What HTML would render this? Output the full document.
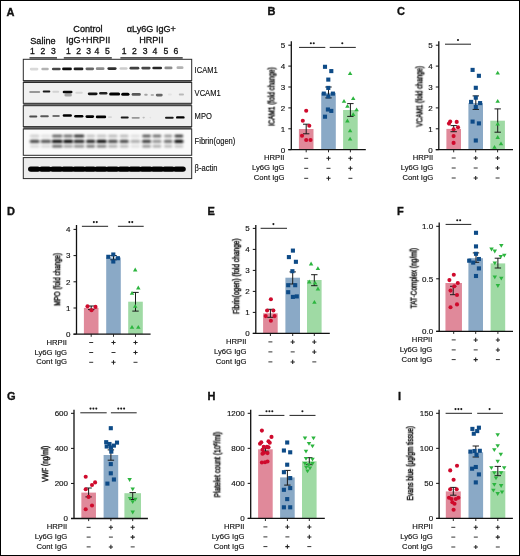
<!DOCTYPE html>
<html><head><meta charset="utf-8"><style>
html,body{margin:0;padding:0;background:#fff;}
svg{display:block;}
svg text{will-change:transform;}
svg text.yl{will-change:auto;}
svg text{font-family:"Liberation Sans", sans-serif;fill:#111;stroke:#111;stroke-width:0.15px;}
</style></head><body>
<svg width="520" height="556" viewBox="0 0 520 556">
<defs><filter id="noop"><feOffset dx="0" dy="0"/></filter><filter id="bl" x="-30%" y="-80%" width="160%" height="260%"><feGaussianBlur stdDeviation="0.75"/></filter><filter id="bl3" x="-30%" y="-80%" width="160%" height="260%"><feGaussianBlur stdDeviation="1.0"/></filter><filter id="bl2" x="-30%" y="-80%" width="160%" height="260%"><feGaussianBlur stdDeviation="0.6"/></filter></defs>
<rect x="0" y="0" width="520" height="556" fill="#fff"/>
<rect x="23.3" y="80.6" width="168.39999999999998" height="1.9" fill="#6a6a6a"/>
<rect x="23.3" y="103.3" width="168.39999999999998" height="2.4" fill="#6a6a6a"/>
<rect x="23.3" y="126.6" width="168.39999999999998" height="2.4" fill="#6a6a6a"/>
<rect x="23.3" y="59.3" width="168.39999999999998" height="21.30" fill="#ffffff" stroke="#2a2a2a" stroke-width="1"/>
<rect x="23.3" y="82.5" width="168.39999999999998" height="20.80" fill="#f1f1f1" stroke="#2a2a2a" stroke-width="1"/>
<rect x="23.3" y="105.7" width="168.39999999999998" height="20.90" fill="#efefef" stroke="#2a2a2a" stroke-width="1"/>
<rect x="23.3" y="129.0" width="168.39999999999998" height="26.30" fill="#fafafa" stroke="#2a2a2a" stroke-width="1"/>
<rect x="23.3" y="157.6" width="168.39999999999998" height="21.00" fill="#ececec" stroke="#2a2a2a" stroke-width="1"/>
<rect x="29.80" y="67.75" width="8.60" height="2.70" rx="1.35" fill="#000" fill-opacity="0.15" filter="url(#bl)"/>
<rect x="41.30" y="67.65" width="7.50" height="2.70" rx="1.35" fill="#000" fill-opacity="0.30" filter="url(#bl)"/>
<rect x="51.90" y="67.65" width="8.80" height="2.70" rx="1.35" fill="#000" fill-opacity="0.72" filter="url(#bl)"/>
<rect x="62.10" y="67.55" width="9.80" height="2.70" rx="1.35" fill="#000" fill-opacity="0.95" filter="url(#bl)"/>
<rect x="73.60" y="67.55" width="9.80" height="2.70" rx="1.35" fill="#000" fill-opacity="0.88" filter="url(#bl)"/>
<rect x="85.50" y="67.45" width="8.60" height="2.70" rx="1.35" fill="#000" fill-opacity="0.60" filter="url(#bl)"/>
<rect x="95.80" y="67.35" width="8.70" height="2.70" rx="1.35" fill="#000" fill-opacity="0.45" filter="url(#bl)"/>
<rect x="107.40" y="67.25" width="9.20" height="2.70" rx="1.35" fill="#000" fill-opacity="0.82" filter="url(#bl)"/>
<rect x="119.50" y="67.15" width="8.10" height="2.70" rx="1.35" fill="#000" fill-opacity="0.20" filter="url(#bl)"/>
<rect x="129.50" y="66.85" width="9.80" height="2.70" rx="1.35" fill="#000" fill-opacity="0.75" filter="url(#bl)"/>
<rect x="141.30" y="66.75" width="9.30" height="2.70" rx="1.35" fill="#000" fill-opacity="0.72" filter="url(#bl)"/>
<rect x="152.30" y="66.65" width="9.80" height="2.70" rx="1.35" fill="#000" fill-opacity="0.85" filter="url(#bl)"/>
<rect x="164.40" y="66.55" width="8.10" height="2.70" rx="1.35" fill="#000" fill-opacity="0.45" filter="url(#bl)"/>
<rect x="176.50" y="66.35" width="7.00" height="2.70" rx="1.35" fill="#000" fill-opacity="0.30" filter="url(#bl)"/>
<rect x="29.20" y="91.05" width="11.00" height="1.90" rx="0.95" fill="#000" fill-opacity="0.37" filter="url(#bl)"/>
<rect x="42.70" y="90.40" width="7.60" height="2.00" rx="1.00" fill="#000" fill-opacity="0.89" filter="url(#bl)"/>
<rect x="52.30" y="90.70" width="6.90" height="2.00" rx="1.00" fill="#000" fill-opacity="0.13" filter="url(#bl)"/>
<rect x="62.70" y="90.70" width="9.80" height="2.60" rx="1.30" fill="#000" fill-opacity="0.97" filter="url(#bl)"/>
<rect x="75.30" y="91.80" width="7.50" height="2.00" rx="1.00" fill="#000" fill-opacity="0.11" filter="url(#bl)"/>
<rect x="87.80" y="92.40" width="9.80" height="2.80" rx="1.40" fill="#000" fill-opacity="0.92" filter="url(#bl)"/>
<rect x="99.10" y="92.00" width="8.30" height="2.40" rx="1.20" fill="#000" fill-opacity="0.86" filter="url(#bl)"/>
<rect x="109.10" y="92.40" width="11.00" height="3.00" rx="1.50" fill="#000" fill-opacity="1.00" filter="url(#bl)"/>
<rect x="121.20" y="92.70" width="8.30" height="3.00" rx="1.50" fill="#000" fill-opacity="1.00" filter="url(#bl)"/>
<rect x="131.60" y="93.10" width="9.20" height="2.60" rx="1.30" fill="#000" fill-opacity="0.63" filter="url(#bl)"/>
<rect x="144.20" y="93.80" width="3.50" height="2.00" rx="1.00" fill="#000" fill-opacity="0.32" filter="url(#bl)"/>
<rect x="150.60" y="94.10" width="3.40" height="1.80" rx="0.90" fill="#000" fill-opacity="0.26" filter="url(#bl)"/>
<rect x="155.80" y="93.80" width="6.90" height="2.60" rx="1.30" fill="#000" fill-opacity="0.58" filter="url(#bl)"/>
<rect x="167.90" y="93.50" width="4.00" height="2.00" rx="1.00" fill="#000" fill-opacity="0.06" filter="url(#bl)"/>
<rect x="178.80" y="93.50" width="5.20" height="2.00" rx="1.00" fill="#000" fill-opacity="0.23" filter="url(#bl)"/>
<rect x="64.40" y="93.30" width="7.50" height="3.20" rx="1.60" fill="#000" fill-opacity="0.32" filter="url(#bl)"/>
<rect x="29.20" y="115.50" width="8.10" height="2.00" rx="1.00" fill="#000" fill-opacity="0.68" filter="url(#bl)"/>
<rect x="40.20" y="115.20" width="8.60" height="2.00" rx="1.00" fill="#000" fill-opacity="0.63" filter="url(#bl)"/>
<rect x="52.30" y="114.90" width="7.50" height="2.00" rx="1.00" fill="#000" fill-opacity="0.53" filter="url(#bl)"/>
<rect x="62.70" y="114.20" width="9.20" height="2.60" rx="1.30" fill="#000" fill-opacity="1.00" filter="url(#bl)"/>
<rect x="74.20" y="115.00" width="9.20" height="2.60" rx="1.30" fill="#000" fill-opacity="1.00" filter="url(#bl)"/>
<rect x="85.50" y="115.30" width="8.60" height="2.60" rx="1.30" fill="#000" fill-opacity="1.00" filter="url(#bl)"/>
<rect x="95.80" y="115.50" width="10.40" height="2.80" rx="1.40" fill="#000" fill-opacity="1.00" filter="url(#bl)"/>
<rect x="108.00" y="116.20" width="4.00" height="1.80" rx="0.90" fill="#000" fill-opacity="0.11" filter="url(#bl)"/>
<rect x="120.70" y="116.50" width="8.00" height="2.00" rx="1.00" fill="#000" fill-opacity="0.89" filter="url(#bl)"/>
<rect x="131.60" y="116.90" width="8.20" height="1.80" rx="0.90" fill="#000" fill-opacity="0.37" filter="url(#bl)"/>
<rect x="142.50" y="116.80" width="2.30" height="1.60" rx="0.80" fill="#000" fill-opacity="0.21" filter="url(#bl)"/>
<rect x="149.40" y="116.80" width="1.80" height="1.60" rx="0.80" fill="#000" fill-opacity="0.06" filter="url(#bl)"/>
<rect x="165.00" y="116.80" width="8.70" height="2.00" rx="1.00" fill="#000" fill-opacity="0.89" filter="url(#bl)"/>
<rect x="176.00" y="116.20" width="8.60" height="2.40" rx="1.20" fill="#000" fill-opacity="1.00" filter="url(#bl)"/>
<rect x="30.00" y="134.80" width="9.30" height="2.40" rx="1.20" fill="#000" fill-opacity="0.19" filter="url(#bl3)"/>
<rect x="29.70" y="139.70" width="9.90" height="3.40" rx="1.70" fill="#000" fill-opacity="0.70" filter="url(#bl3)"/>
<rect x="30.00" y="145.00" width="9.30" height="2.40" rx="1.20" fill="#000" fill-opacity="0.14" filter="url(#bl3)"/>
<rect x="41.00" y="134.80" width="9.80" height="2.40" rx="1.20" fill="#000" fill-opacity="0.10" filter="url(#bl3)"/>
<rect x="40.70" y="139.70" width="10.40" height="3.40" rx="1.70" fill="#000" fill-opacity="0.65" filter="url(#bl3)"/>
<rect x="41.00" y="145.00" width="9.80" height="2.40" rx="1.20" fill="#000" fill-opacity="0.14" filter="url(#bl3)"/>
<rect x="52.00" y="134.80" width="10.40" height="2.40" rx="1.20" fill="#000" fill-opacity="0.66" filter="url(#bl3)"/>
<rect x="51.70" y="139.70" width="11.00" height="3.40" rx="1.70" fill="#000" fill-opacity="0.95" filter="url(#bl3)"/>
<rect x="52.00" y="145.00" width="10.40" height="2.40" rx="1.20" fill="#000" fill-opacity="0.62" filter="url(#bl3)"/>
<rect x="63.50" y="134.80" width="9.30" height="2.40" rx="1.20" fill="#000" fill-opacity="0.62" filter="url(#bl3)"/>
<rect x="63.20" y="139.70" width="9.90" height="3.40" rx="1.70" fill="#000" fill-opacity="0.98" filter="url(#bl3)"/>
<rect x="63.50" y="145.00" width="9.30" height="2.40" rx="1.20" fill="#000" fill-opacity="0.38" filter="url(#bl3)"/>
<rect x="73.90" y="134.80" width="10.40" height="2.40" rx="1.20" fill="#000" fill-opacity="0.90" filter="url(#bl3)"/>
<rect x="73.60" y="139.70" width="11.00" height="3.40" rx="1.70" fill="#000" fill-opacity="0.85" filter="url(#bl3)"/>
<rect x="73.90" y="145.00" width="10.40" height="2.40" rx="1.20" fill="#000" fill-opacity="0.47" filter="url(#bl3)"/>
<rect x="86.30" y="134.80" width="8.70" height="2.40" rx="1.20" fill="#000" fill-opacity="0.24" filter="url(#bl3)"/>
<rect x="86.00" y="139.70" width="9.30" height="3.40" rx="1.70" fill="#000" fill-opacity="0.85" filter="url(#bl3)"/>
<rect x="86.30" y="145.00" width="8.70" height="2.40" rx="1.20" fill="#000" fill-opacity="0.57" filter="url(#bl3)"/>
<rect x="96.70" y="134.80" width="9.80" height="2.40" rx="1.20" fill="#000" fill-opacity="0.24" filter="url(#bl3)"/>
<rect x="96.40" y="139.70" width="10.40" height="3.40" rx="1.70" fill="#000" fill-opacity="0.95" filter="url(#bl3)"/>
<rect x="96.70" y="145.00" width="9.80" height="2.40" rx="1.20" fill="#000" fill-opacity="0.52" filter="url(#bl3)"/>
<rect x="108.20" y="134.80" width="9.30" height="2.40" rx="1.20" fill="#000" fill-opacity="0.28" filter="url(#bl3)"/>
<rect x="107.90" y="139.70" width="9.90" height="3.40" rx="1.70" fill="#000" fill-opacity="0.70" filter="url(#bl3)"/>
<rect x="108.20" y="145.00" width="9.30" height="2.40" rx="1.20" fill="#000" fill-opacity="0.33" filter="url(#bl3)"/>
<rect x="119.80" y="134.80" width="8.70" height="2.40" rx="1.20" fill="#000" fill-opacity="0.28" filter="url(#bl3)"/>
<rect x="119.50" y="139.70" width="9.30" height="3.40" rx="1.70" fill="#000" fill-opacity="0.70" filter="url(#bl3)"/>
<rect x="119.80" y="145.00" width="8.70" height="2.40" rx="1.20" fill="#000" fill-opacity="0.28" filter="url(#bl3)"/>
<rect x="130.70" y="134.80" width="9.30" height="2.40" rx="1.20" fill="#000" fill-opacity="0.11" filter="url(#bl3)"/>
<rect x="130.40" y="139.70" width="9.90" height="3.40" rx="1.70" fill="#000" fill-opacity="0.30" filter="url(#bl3)"/>
<rect x="130.70" y="145.00" width="9.30" height="2.40" rx="1.20" fill="#000" fill-opacity="0.11" filter="url(#bl3)"/>
<rect x="142.20" y="134.80" width="8.70" height="2.40" rx="1.20" fill="#000" fill-opacity="0.71" filter="url(#bl3)"/>
<rect x="141.90" y="139.70" width="9.30" height="3.40" rx="1.70" fill="#000" fill-opacity="0.75" filter="url(#bl3)"/>
<rect x="142.20" y="145.00" width="8.70" height="2.40" rx="1.20" fill="#000" fill-opacity="0.43" filter="url(#bl3)"/>
<rect x="152.60" y="134.80" width="8.70" height="2.40" rx="1.20" fill="#000" fill-opacity="0.62" filter="url(#bl3)"/>
<rect x="152.30" y="139.70" width="9.30" height="3.40" rx="1.70" fill="#000" fill-opacity="0.40" filter="url(#bl3)"/>
<rect x="152.60" y="145.00" width="8.70" height="2.40" rx="1.20" fill="#000" fill-opacity="0.33" filter="url(#bl3)"/>
<rect x="164.10" y="134.80" width="8.10" height="2.40" rx="1.20" fill="#000" fill-opacity="0.43" filter="url(#bl3)"/>
<rect x="163.80" y="139.70" width="8.70" height="3.40" rx="1.70" fill="#000" fill-opacity="0.55" filter="url(#bl3)"/>
<rect x="164.10" y="145.00" width="8.10" height="2.40" rx="1.20" fill="#000" fill-opacity="0.28" filter="url(#bl3)"/>
<rect x="174.50" y="134.80" width="8.70" height="2.40" rx="1.20" fill="#000" fill-opacity="0.85" filter="url(#bl3)"/>
<rect x="174.20" y="139.70" width="9.30" height="3.40" rx="1.70" fill="#000" fill-opacity="0.95" filter="url(#bl3)"/>
<rect x="174.50" y="145.00" width="8.70" height="2.40" rx="1.20" fill="#000" fill-opacity="0.24" filter="url(#bl3)"/>
<rect x="29.00" y="167.00" width="156.00" height="4.20" rx="2.10" fill="#000" fill-opacity="0.90" filter="url(#bl2)"/>
<rect x="28.00" y="166.40" width="12.40" height="5.40" rx="2.70" fill="#000" fill-opacity="0.96" filter="url(#bl2)"/>
<rect x="39.00" y="166.40" width="12.60" height="5.40" rx="2.70" fill="#000" fill-opacity="0.96" filter="url(#bl2)"/>
<rect x="50.00" y="166.40" width="13.20" height="5.40" rx="2.70" fill="#000" fill-opacity="0.96" filter="url(#bl2)"/>
<rect x="61.00" y="166.40" width="13.60" height="5.40" rx="2.70" fill="#000" fill-opacity="0.96" filter="url(#bl2)"/>
<rect x="72.20" y="166.40" width="13.80" height="5.40" rx="2.70" fill="#000" fill-opacity="0.96" filter="url(#bl2)"/>
<rect x="83.60" y="166.40" width="12.80" height="5.40" rx="2.70" fill="#000" fill-opacity="0.96" filter="url(#bl2)"/>
<rect x="94.20" y="166.40" width="13.60" height="5.40" rx="2.70" fill="#000" fill-opacity="0.96" filter="url(#bl2)"/>
<rect x="105.60" y="166.40" width="13.80" height="5.40" rx="2.70" fill="#000" fill-opacity="0.96" filter="url(#bl2)"/>
<rect x="117.40" y="166.40" width="13.00" height="5.40" rx="2.70" fill="#000" fill-opacity="0.96" filter="url(#bl2)"/>
<rect x="128.20" y="166.40" width="13.40" height="5.40" rx="2.70" fill="#000" fill-opacity="0.96" filter="url(#bl2)"/>
<rect x="139.40" y="166.40" width="13.40" height="5.40" rx="2.70" fill="#000" fill-opacity="0.96" filter="url(#bl2)"/>
<rect x="150.60" y="166.40" width="13.60" height="5.40" rx="2.70" fill="#000" fill-opacity="0.96" filter="url(#bl2)"/>
<rect x="162.00" y="166.40" width="13.00" height="5.40" rx="2.70" fill="#000" fill-opacity="0.96" filter="url(#bl2)"/>
<rect x="173.00" y="166.40" width="12.80" height="5.40" rx="2.70" fill="#000" fill-opacity="0.96" filter="url(#bl2)"/>
<rect x="29.5" y="57.0" width="27.5" height="1.8" fill="#555"/>
<rect x="63.8" y="57.0" width="48.0" height="1.8" fill="#555"/>
<rect x="120.4" y="57.0" width="62.29999999999998" height="1.8" fill="#555"/>
<text x="30.3" y="43.5" font-size="9.1" text-anchor="start" font-weight="normal" style="stroke-width:0.3px">Saline</text>
<text x="88.0" y="32.2" font-size="9.1" text-anchor="middle" font-weight="normal" style="stroke-width:0.3px">Control</text>
<text x="88.1" y="43.2" font-size="9.1" text-anchor="middle" font-weight="normal" style="stroke-width:0.3px">IgG+HRPII</text>
<text x="151.3" y="32.2" font-size="9.1" text-anchor="middle" font-weight="normal" style="stroke-width:0.3px">αLy6G IgG+</text>
<text x="151.3" y="43.2" font-size="9.1" text-anchor="middle" font-weight="normal" style="stroke-width:0.3px">HRPII</text>
<text x="32.5" y="54.3" font-size="8.6" text-anchor="middle" font-weight="normal" style="stroke-width:0.3px">1</text>
<text x="43.0" y="54.3" font-size="8.6" text-anchor="middle" font-weight="normal" style="stroke-width:0.3px">2</text>
<text x="53.5" y="54.3" font-size="8.6" text-anchor="middle" font-weight="normal" style="stroke-width:0.3px">3</text>
<text x="68.5" y="54.3" font-size="8.6" text-anchor="middle" font-weight="normal" style="stroke-width:0.3px">1</text>
<text x="78.7" y="54.3" font-size="8.6" text-anchor="middle" font-weight="normal" style="stroke-width:0.3px">2</text>
<text x="88.6" y="54.3" font-size="8.6" text-anchor="middle" font-weight="normal" style="stroke-width:0.3px">3</text>
<text x="96.9" y="54.3" font-size="8.6" text-anchor="middle" font-weight="normal" style="stroke-width:0.3px">4</text>
<text x="107.4" y="54.3" font-size="8.6" text-anchor="middle" font-weight="normal" style="stroke-width:0.3px">5</text>
<text x="124.2" y="54.3" font-size="8.6" text-anchor="middle" font-weight="normal" style="stroke-width:0.3px">1</text>
<text x="134.3" y="54.3" font-size="8.6" text-anchor="middle" font-weight="normal" style="stroke-width:0.3px">2</text>
<text x="145.1" y="54.3" font-size="8.6" text-anchor="middle" font-weight="normal" style="stroke-width:0.3px">3</text>
<text x="155.0" y="54.3" font-size="8.6" text-anchor="middle" font-weight="normal" style="stroke-width:0.3px">4</text>
<text x="165.8" y="54.3" font-size="8.6" text-anchor="middle" font-weight="normal" style="stroke-width:0.3px">5</text>
<text x="176.0" y="54.3" font-size="8.6" text-anchor="middle" font-weight="normal" style="stroke-width:0.3px">6</text>
<text transform="translate(194.6,73.0) scale(0.9,1)" font-size="8.4" text-anchor="start" font-weight="normal" >ICAM1</text>
<text transform="translate(194.6,96.1) scale(0.9,1)" font-size="8.4" text-anchor="start" font-weight="normal" >VCAM1</text>
<text transform="translate(194.6,119.0) scale(0.9,1)" font-size="8.4" text-anchor="start" font-weight="normal" >MPO</text>
<text transform="translate(194.6,144.2) scale(0.9,1)" font-size="8.4" text-anchor="start" font-weight="normal" >Fibrin(ogen)</text>
<text transform="translate(194.6,170.7) scale(0.9,1)" font-size="8.4" text-anchor="start" font-weight="normal" >β-actin</text>
<text x="6.5" y="15.5" font-size="11" text-anchor="start" font-weight="bold" style="stroke-width:0.35px">A</text>
<rect x="298.90" y="129.0" width="14.6" height="20.70" fill="#e0899a"/>
<rect x="321.20" y="92.8" width="14.6" height="56.90" fill="#8aa9c6"/>
<rect x="343.10" y="110.0" width="14.6" height="39.70" fill="#9fdaa4"/>
<path d="M303.00,124.2 H309.40 M306.2,124.2 V133.8 M303.00,133.8 H309.40" stroke="#1a1a1a" stroke-width="1" fill="none"/>
<path d="M325.30,87.0 H331.70 M328.5,87.0 V97.9 M325.30,97.9 H331.70" stroke="#1a1a1a" stroke-width="1" fill="none"/>
<path d="M347.20,103.6 H353.60 M350.4,103.6 V116.4 M347.20,116.4 H353.60" stroke="#1a1a1a" stroke-width="1" fill="none"/>
<circle cx="306.2" cy="110.7" r="2.05" fill="#cf0a2c"/>
<circle cx="302.8" cy="120.7" r="2.05" fill="#cf0a2c"/>
<circle cx="309.3" cy="125.8" r="2.05" fill="#cf0a2c"/>
<circle cx="302" cy="135.7" r="2.05" fill="#cf0a2c"/>
<circle cx="306.2" cy="140" r="2.05" fill="#cf0a2c"/>
<circle cx="310.5" cy="140" r="2.05" fill="#cf0a2c"/>
<rect x="322.95" y="64.75" width="4.1" height="4.1" fill="#0e4b87"/>
<rect x="329.25" y="69.05" width="4.1" height="4.1" fill="#0e4b87"/>
<rect x="326.25" y="77.55" width="4.1" height="4.1" fill="#0e4b87"/>
<rect x="326.25" y="85.85" width="4.1" height="4.1" fill="#0e4b87"/>
<rect x="321.75" y="91.55" width="4.1" height="4.1" fill="#0e4b87"/>
<rect x="326.25" y="94.35" width="4.1" height="4.1" fill="#0e4b87"/>
<rect x="330.85" y="91.55" width="4.1" height="4.1" fill="#0e4b87"/>
<rect x="325.85" y="107.45" width="4.1" height="4.1" fill="#0e4b87"/>
<rect x="329.25" y="108.85" width="4.1" height="4.1" fill="#0e4b87"/>
<rect x="322.95" y="114.65" width="4.1" height="4.1" fill="#0e4b87"/>
<path d="M347.85,75.00 L352.35,75.00 L350.10,71.20 Z" fill="#2cb53f"/>
<path d="M350.95,100.10 L355.45,100.10 L353.20,96.30 Z" fill="#2cb53f"/>
<path d="M341.75,102.70 L346.25,102.70 L344.00,98.90 Z" fill="#2cb53f"/>
<path d="M345.15,107.80 L349.65,107.80 L347.40,104.00 Z" fill="#2cb53f"/>
<path d="M354.35,111.20 L358.85,111.20 L356.60,107.40 Z" fill="#2cb53f"/>
<path d="M350.95,116.00 L355.45,116.00 L353.20,112.20 Z" fill="#2cb53f"/>
<path d="M345.15,122.40 L349.65,122.40 L347.40,118.60 Z" fill="#2cb53f"/>
<path d="M347.85,132.30 L352.35,132.30 L350.10,128.50 Z" fill="#2cb53f"/>
<path d="M347.85,140.60 L352.35,140.60 L350.10,136.80 Z" fill="#2cb53f"/>
<path d="M291.3,41.2 V150.2 M288.3,149.7 H365.8" stroke="#111" stroke-width="1.3" fill="none"/>
<path d="M288.3,149.7 H291.3" stroke="#111" stroke-width="1" fill="none"/>
<text x="285.3" y="152.54999999999998" font-size="8.0" text-anchor="end" font-weight="normal" >0</text>
<path d="M288.3,128.8 H291.3" stroke="#111" stroke-width="1" fill="none"/>
<text x="285.3" y="131.65" font-size="8.0" text-anchor="end" font-weight="normal" >1</text>
<path d="M288.3,107.9 H291.3" stroke="#111" stroke-width="1" fill="none"/>
<text x="285.3" y="110.75" font-size="8.0" text-anchor="end" font-weight="normal" >2</text>
<path d="M288.3,87.0 H291.3" stroke="#111" stroke-width="1" fill="none"/>
<text x="285.3" y="89.85" font-size="8.0" text-anchor="end" font-weight="normal" >3</text>
<path d="M288.3,66.1 H291.3" stroke="#111" stroke-width="1" fill="none"/>
<text x="285.3" y="68.94999999999999" font-size="8.0" text-anchor="end" font-weight="normal" >4</text>
<path d="M288.3,45.2 H291.3" stroke="#111" stroke-width="1" fill="none"/>
<text x="285.3" y="48.050000000000004" font-size="8.0" text-anchor="end" font-weight="normal" >5</text>
<path d="M306.2,149.7 V152.29999999999998" stroke="#111" stroke-width="0.9" fill="none"/>
<path d="M328.5,149.7 V152.29999999999998" stroke="#111" stroke-width="0.9" fill="none"/>
<path d="M350.4,149.7 V152.29999999999998" stroke="#111" stroke-width="0.9" fill="none"/>
<path d="M299,47.4 H325.3" stroke="#222" stroke-width="1" fill="none"/>
<circle cx="310.85" cy="43.20" r="1.05" fill="#1a1a1a"/>
<circle cx="313.75" cy="43.20" r="1.05" fill="#1a1a1a"/>
<path d="M329.7,47.4 H355.8" stroke="#222" stroke-width="1" fill="none"/>
<circle cx="342.30" cy="43.20" r="1.05" fill="#1a1a1a"/>
<text class="yl" filter="url(#noop)" font-weight="normal" style="stroke-width:0.45px" transform="translate(274.5,96.6) rotate(-90) scale(0.7846,1)" font-size="8.2" text-anchor="middle">ICAM1 (fold change)</text>
<text transform="translate(284.5,160.4) scale(0.96,1)" font-size="8.0" text-anchor="end" font-weight="normal" >HRPII</text>
<path d="M304.20,158.30 H308.20" stroke="#333" stroke-width="1.0" fill="none"/>
<path d="M326.40,158.30 H330.60 M328.5,156.20 V160.40" stroke="#222" stroke-width="1.05" fill="none"/>
<path d="M348.30,158.30 H352.50 M350.4,156.20 V160.40" stroke="#222" stroke-width="1.05" fill="none"/>
<text transform="translate(284.5,170.4) scale(0.96,1)" font-size="8.0" text-anchor="end" font-weight="normal" >Ly6G IgG</text>
<path d="M304.20,168.30 H308.20" stroke="#333" stroke-width="1.0" fill="none"/>
<path d="M326.50,168.30 H330.50" stroke="#333" stroke-width="1.0" fill="none"/>
<path d="M348.30,168.30 H352.50 M350.4,166.20 V170.40" stroke="#222" stroke-width="1.05" fill="none"/>
<text transform="translate(284.5,180.4) scale(0.96,1)" font-size="8.0" text-anchor="end" font-weight="normal" >Cont IgG</text>
<path d="M304.20,178.30 H308.20" stroke="#333" stroke-width="1.0" fill="none"/>
<path d="M326.40,178.30 H330.60 M328.5,176.20 V180.40" stroke="#222" stroke-width="1.05" fill="none"/>
<path d="M348.40,178.30 H352.40" stroke="#333" stroke-width="1.0" fill="none"/>
<text x="267.5" y="15.399999999999999" font-size="11" text-anchor="start" font-weight="bold" style="stroke-width:0.35px">B</text>
<rect x="446.40" y="128.9" width="14.6" height="20.80" fill="#e0899a"/>
<rect x="468.40" y="103.1" width="14.6" height="46.60" fill="#8aa9c6"/>
<rect x="490.30" y="120.7" width="14.6" height="29.00" fill="#9fdaa4"/>
<path d="M450.50,125.6 H456.90 M453.7,125.6 V131.7 M450.50,131.7 H456.90" stroke="#1a1a1a" stroke-width="1" fill="none"/>
<path d="M472.60,95.9 H479.00 M475.8,95.9 V109.4 M472.60,109.4 H479.00" stroke="#1a1a1a" stroke-width="1" fill="none"/>
<path d="M494.50,108.9 H500.90 M497.7,108.9 V132.2 M494.50,132.2 H500.90" stroke="#1a1a1a" stroke-width="1" fill="none"/>
<circle cx="450.2" cy="121.5" r="2.05" fill="#cf0a2c"/>
<circle cx="456.7" cy="121.9" r="2.05" fill="#cf0a2c"/>
<circle cx="449" cy="123.6" r="2.05" fill="#cf0a2c"/>
<circle cx="458" cy="127.2" r="2.05" fill="#cf0a2c"/>
<circle cx="453.6" cy="129.2" r="2.05" fill="#cf0a2c"/>
<circle cx="453.6" cy="136.1" r="2.05" fill="#cf0a2c"/>
<circle cx="453.6" cy="142.9" r="2.05" fill="#cf0a2c"/>
<rect x="470.55" y="67.85" width="4.1" height="4.1" fill="#0e4b87"/>
<rect x="476.85" y="73.75" width="4.1" height="4.1" fill="#0e4b87"/>
<rect x="473.75" y="85.75" width="4.1" height="4.1" fill="#0e4b87"/>
<rect x="473.75" y="95.65" width="4.1" height="4.1" fill="#0e4b87"/>
<rect x="469.05" y="99.85" width="4.1" height="4.1" fill="#0e4b87"/>
<rect x="478.05" y="101.05" width="4.1" height="4.1" fill="#0e4b87"/>
<rect x="473.75" y="104.95" width="4.1" height="4.1" fill="#0e4b87"/>
<rect x="470.55" y="119.55" width="4.1" height="4.1" fill="#0e4b87"/>
<rect x="476.85" y="121.35" width="4.1" height="4.1" fill="#0e4b87"/>
<rect x="473.75" y="138.45" width="4.1" height="4.1" fill="#0e4b87"/>
<path d="M495.45,74.60 L499.95,74.60 L497.70,70.80 Z" fill="#2cb53f"/>
<path d="M495.45,102.70 L499.95,102.70 L497.70,98.90 Z" fill="#2cb53f"/>
<path d="M495.45,125.50 L499.95,125.50 L497.70,121.70 Z" fill="#2cb53f"/>
<path d="M495.45,138.90 L499.95,138.90 L497.70,135.10 Z" fill="#2cb53f"/>
<path d="M498.75,145.20 L503.25,145.20 L501.00,141.40 Z" fill="#2cb53f"/>
<path d="M492.25,148.80 L496.75,148.80 L494.50,145.00 Z" fill="#2cb53f"/>
<path d="M438.8,41.2 V150.2 M435.8,149.7 H513" stroke="#111" stroke-width="1.3" fill="none"/>
<path d="M435.8,149.7 H438.8" stroke="#111" stroke-width="1" fill="none"/>
<text x="432.8" y="152.54999999999998" font-size="8.0" text-anchor="end" font-weight="normal" >0</text>
<path d="M435.8,128.8 H438.8" stroke="#111" stroke-width="1" fill="none"/>
<text x="432.8" y="131.65" font-size="8.0" text-anchor="end" font-weight="normal" >1</text>
<path d="M435.8,107.9 H438.8" stroke="#111" stroke-width="1" fill="none"/>
<text x="432.8" y="110.75" font-size="8.0" text-anchor="end" font-weight="normal" >2</text>
<path d="M435.8,87.0 H438.8" stroke="#111" stroke-width="1" fill="none"/>
<text x="432.8" y="89.85" font-size="8.0" text-anchor="end" font-weight="normal" >3</text>
<path d="M435.8,66.1 H438.8" stroke="#111" stroke-width="1" fill="none"/>
<text x="432.8" y="68.94999999999999" font-size="8.0" text-anchor="end" font-weight="normal" >4</text>
<path d="M435.8,45.2 H438.8" stroke="#111" stroke-width="1" fill="none"/>
<text x="432.8" y="48.050000000000004" font-size="8.0" text-anchor="end" font-weight="normal" >5</text>
<path d="M453.7,149.7 V152.29999999999998" stroke="#111" stroke-width="0.9" fill="none"/>
<path d="M475.7,149.7 V152.29999999999998" stroke="#111" stroke-width="0.9" fill="none"/>
<path d="M497.6,149.7 V152.29999999999998" stroke="#111" stroke-width="0.9" fill="none"/>
<path d="M445,44.2 H471" stroke="#222" stroke-width="1" fill="none"/>
<circle cx="458.00" cy="40.00" r="1.05" fill="#1a1a1a"/>
<text class="yl" filter="url(#noop)" font-weight="normal" style="stroke-width:0.45px" transform="translate(422.4,96.4) rotate(-90) scale(0.7781,1)" font-size="8.2" text-anchor="middle">VCAM1 (fold change)</text>
<text transform="translate(433.2,160.1) scale(0.96,1)" font-size="8.0" text-anchor="end" font-weight="normal" >HRPII</text>
<path d="M451.70,158.00 H455.70" stroke="#333" stroke-width="1.0" fill="none"/>
<path d="M473.60,158.00 H477.80 M475.7,155.90 V160.10" stroke="#222" stroke-width="1.05" fill="none"/>
<path d="M495.50,158.00 H499.70 M497.6,155.90 V160.10" stroke="#222" stroke-width="1.05" fill="none"/>
<text transform="translate(433.2,170.1) scale(0.96,1)" font-size="8.0" text-anchor="end" font-weight="normal" >Ly6G IgG</text>
<path d="M451.70,168.00 H455.70" stroke="#333" stroke-width="1.0" fill="none"/>
<path d="M473.70,168.00 H477.70" stroke="#333" stroke-width="1.0" fill="none"/>
<path d="M495.50,168.00 H499.70 M497.6,165.90 V170.10" stroke="#222" stroke-width="1.05" fill="none"/>
<text transform="translate(433.2,180.1) scale(0.96,1)" font-size="8.0" text-anchor="end" font-weight="normal" >Cont IgG</text>
<path d="M451.70,178.00 H455.70" stroke="#333" stroke-width="1.0" fill="none"/>
<path d="M473.60,178.00 H477.80 M475.7,175.90 V180.10" stroke="#222" stroke-width="1.05" fill="none"/>
<path d="M495.60,178.00 H499.60" stroke="#333" stroke-width="1.0" fill="none"/>
<text x="396.90000000000003" y="15.399999999999999" font-size="11" text-anchor="start" font-weight="bold" style="stroke-width:0.35px">C</text>
<rect x="83.90" y="307.9" width="14.6" height="26.30" fill="#e0899a"/>
<rect x="106.20" y="257.5" width="14.6" height="76.70" fill="#8aa9c6"/>
<rect x="128.20" y="301.7" width="14.6" height="32.50" fill="#9fdaa4"/>
<path d="M88.00,306.0 H94.40 M91.2,306.0 V309.6 M88.00,309.6 H94.40" stroke="#1a1a1a" stroke-width="1" fill="none"/>
<path d="M110.30,255.5 H116.70 M113.5,255.5 V259.8 M110.30,259.8 H116.70" stroke="#1a1a1a" stroke-width="1" fill="none"/>
<path d="M132.30,292.4 H138.70 M135.5,292.4 V311.1 M132.30,311.1 H138.70" stroke="#1a1a1a" stroke-width="1" fill="none"/>
<circle cx="87.5" cy="306.2" r="2.05" fill="#cf0a2c"/>
<circle cx="95.5" cy="306.9" r="2.05" fill="#cf0a2c"/>
<circle cx="91.5" cy="310.2" r="2.05" fill="#cf0a2c"/>
<rect x="106.25" y="254.75" width="4.1" height="4.1" fill="#0e4b87"/>
<rect x="111.25" y="252.45" width="4.1" height="4.1" fill="#0e4b87"/>
<rect x="115.85" y="256.15" width="4.1" height="4.1" fill="#0e4b87"/>
<rect x="111.25" y="259.45" width="4.1" height="4.1" fill="#0e4b87"/>
<path d="M132.95,271.40 L137.45,271.40 L135.20,267.60 Z" fill="#2cb53f"/>
<path d="M136.05,289.40 L140.55,289.40 L138.30,285.60 Z" fill="#2cb53f"/>
<path d="M129.75,294.70 L134.25,294.70 L132.00,290.90 Z" fill="#2cb53f"/>
<path d="M132.95,307.70 L137.45,307.70 L135.20,303.90 Z" fill="#2cb53f"/>
<path d="M129.75,328.70 L134.25,328.70 L132.00,324.90 Z" fill="#2cb53f"/>
<path d="M136.05,328.70 L140.55,328.70 L138.30,324.90 Z" fill="#2cb53f"/>
<path d="M76.5,225.1 V334.7 M73.5,334.2 H150.6" stroke="#111" stroke-width="1.3" fill="none"/>
<path d="M73.5,334.2 H76.5" stroke="#111" stroke-width="1" fill="none"/>
<text x="70.5" y="337.05" font-size="8.0" text-anchor="end" font-weight="normal" >0</text>
<path d="M73.5,308.0 H76.5" stroke="#111" stroke-width="1" fill="none"/>
<text x="70.5" y="310.85" font-size="8.0" text-anchor="end" font-weight="normal" >1</text>
<path d="M73.5,281.8 H76.5" stroke="#111" stroke-width="1" fill="none"/>
<text x="70.5" y="284.65000000000003" font-size="8.0" text-anchor="end" font-weight="normal" >2</text>
<path d="M73.5,255.6 H76.5" stroke="#111" stroke-width="1" fill="none"/>
<text x="70.5" y="258.45" font-size="8.0" text-anchor="end" font-weight="normal" >3</text>
<path d="M73.5,229.4 H76.5" stroke="#111" stroke-width="1" fill="none"/>
<text x="70.5" y="232.25" font-size="8.0" text-anchor="end" font-weight="normal" >4</text>
<path d="M91.2,334.2 V336.8" stroke="#111" stroke-width="0.9" fill="none"/>
<path d="M113.5,334.2 V336.8" stroke="#111" stroke-width="0.9" fill="none"/>
<path d="M135.5,334.2 V336.8" stroke="#111" stroke-width="0.9" fill="none"/>
<path d="M81.9,226.3 H108.1" stroke="#222" stroke-width="1" fill="none"/>
<circle cx="93.85" cy="222.10" r="1.05" fill="#1a1a1a"/>
<circle cx="96.75" cy="222.10" r="1.05" fill="#1a1a1a"/>
<path d="M117.9,226.3 H143.7" stroke="#222" stroke-width="1" fill="none"/>
<circle cx="129.35" cy="222.10" r="1.05" fill="#1a1a1a"/>
<circle cx="132.25" cy="222.10" r="1.05" fill="#1a1a1a"/>
<text class="yl" filter="url(#noop)" font-weight="normal" style="stroke-width:0.45px" transform="translate(60.2,279.4) rotate(-90) scale(0.7701,1)" font-size="8.2" text-anchor="middle">MPO (fold change)</text>
<text transform="translate(67.0,344.6) scale(0.96,1)" font-size="8.0" text-anchor="end" font-weight="normal" >HRPII</text>
<path d="M89.20,342.50 H93.20" stroke="#333" stroke-width="1.0" fill="none"/>
<path d="M111.40,342.50 H115.60 M113.5,340.40 V344.60" stroke="#222" stroke-width="1.05" fill="none"/>
<path d="M133.40,342.50 H137.60 M135.5,340.40 V344.60" stroke="#222" stroke-width="1.05" fill="none"/>
<text transform="translate(67.0,354.6) scale(0.96,1)" font-size="8.0" text-anchor="end" font-weight="normal" >Ly6G IgG</text>
<path d="M89.20,352.50 H93.20" stroke="#333" stroke-width="1.0" fill="none"/>
<path d="M111.50,352.50 H115.50" stroke="#333" stroke-width="1.0" fill="none"/>
<path d="M133.40,352.50 H137.60 M135.5,350.40 V354.60" stroke="#222" stroke-width="1.05" fill="none"/>
<text transform="translate(67.0,364.4) scale(0.96,1)" font-size="8.0" text-anchor="end" font-weight="normal" >Cont IgG</text>
<path d="M89.20,362.30 H93.20" stroke="#333" stroke-width="1.0" fill="none"/>
<path d="M111.40,362.30 H115.60 M113.5,360.20 V364.40" stroke="#222" stroke-width="1.05" fill="none"/>
<path d="M133.50,362.30 H137.50" stroke="#333" stroke-width="1.0" fill="none"/>
<text x="6.8999999999999995" y="215.39999999999998" font-size="11" text-anchor="start" font-weight="bold" style="stroke-width:0.35px">D</text>
<rect x="263.10" y="313.3" width="14.6" height="20.10" fill="#e0899a"/>
<rect x="285.40" y="277.7" width="14.6" height="55.70" fill="#8aa9c6"/>
<rect x="307.00" y="280.0" width="14.6" height="53.40" fill="#9fdaa4"/>
<path d="M267.20,309.3 H273.60 M270.4,309.3 V317.3 M267.20,317.3 H273.60" stroke="#1a1a1a" stroke-width="1" fill="none"/>
<path d="M289.50,271.9 H295.90 M292.7,271.9 V284.0 M289.50,284.0 H295.90" stroke="#1a1a1a" stroke-width="1" fill="none"/>
<path d="M311.10,274.7 H317.50 M314.3,274.7 V285.7 M311.10,285.7 H317.50" stroke="#1a1a1a" stroke-width="1" fill="none"/>
<circle cx="270.9" cy="299.3" r="2.05" fill="#cf0a2c"/>
<circle cx="267.1" cy="310.5" r="2.05" fill="#cf0a2c"/>
<circle cx="273.4" cy="310.5" r="2.05" fill="#cf0a2c"/>
<circle cx="265.7" cy="316.1" r="2.05" fill="#cf0a2c"/>
<circle cx="274.6" cy="316.1" r="2.05" fill="#cf0a2c"/>
<circle cx="270.9" cy="320.8" r="2.05" fill="#cf0a2c"/>
<rect x="290.85" y="248.55" width="4.1" height="4.1" fill="#0e4b87"/>
<rect x="286.85" y="255.05" width="4.1" height="4.1" fill="#0e4b87"/>
<rect x="293.85" y="259.75" width="4.1" height="4.1" fill="#0e4b87"/>
<rect x="290.35" y="269.15" width="4.1" height="4.1" fill="#0e4b87"/>
<rect x="286.15" y="283.15" width="4.1" height="4.1" fill="#0e4b87"/>
<rect x="293.15" y="283.15" width="4.1" height="4.1" fill="#0e4b87"/>
<rect x="286.15" y="290.15" width="4.1" height="4.1" fill="#0e4b87"/>
<rect x="290.85" y="294.85" width="4.1" height="4.1" fill="#0e4b87"/>
<rect x="294.75" y="294.35" width="4.1" height="4.1" fill="#0e4b87"/>
<path d="M308.85,265.40 L313.35,265.40 L311.10,261.60 Z" fill="#2cb53f"/>
<path d="M315.65,270.10 L320.15,270.10 L317.90,266.30 Z" fill="#2cb53f"/>
<path d="M307.05,283.40 L311.55,283.40 L309.30,279.60 Z" fill="#2cb53f"/>
<path d="M312.85,284.60 L317.35,284.60 L315.10,280.80 Z" fill="#2cb53f"/>
<path d="M315.65,290.40 L320.15,290.40 L317.90,286.60 Z" fill="#2cb53f"/>
<path d="M312.15,303.80 L316.65,303.80 L314.40,300.00 Z" fill="#2cb53f"/>
<path d="M255.8,225.0 V333.9 M252.8,333.4 H329.8" stroke="#111" stroke-width="1.3" fill="none"/>
<path d="M252.8,333.4 H255.8" stroke="#111" stroke-width="1" fill="none"/>
<text x="249.8" y="336.25" font-size="8.0" text-anchor="end" font-weight="normal" >0</text>
<path d="M252.8,312.4 H255.8" stroke="#111" stroke-width="1" fill="none"/>
<text x="249.8" y="315.25" font-size="8.0" text-anchor="end" font-weight="normal" >1</text>
<path d="M252.8,291.4 H255.8" stroke="#111" stroke-width="1" fill="none"/>
<text x="249.8" y="294.25" font-size="8.0" text-anchor="end" font-weight="normal" >2</text>
<path d="M252.8,270.4 H255.8" stroke="#111" stroke-width="1" fill="none"/>
<text x="249.8" y="273.25" font-size="8.0" text-anchor="end" font-weight="normal" >3</text>
<path d="M252.8,249.4 H255.8" stroke="#111" stroke-width="1" fill="none"/>
<text x="249.8" y="252.25" font-size="8.0" text-anchor="end" font-weight="normal" >4</text>
<path d="M252.8,228.4 H255.8" stroke="#111" stroke-width="1" fill="none"/>
<text x="249.8" y="231.25" font-size="8.0" text-anchor="end" font-weight="normal" >5</text>
<path d="M270.4,333.4 V336.0" stroke="#111" stroke-width="0.9" fill="none"/>
<path d="M292.7,333.4 V336.0" stroke="#111" stroke-width="0.9" fill="none"/>
<path d="M314.3,333.4 V336.0" stroke="#111" stroke-width="0.9" fill="none"/>
<path d="M260.6,228.3 H287" stroke="#222" stroke-width="1" fill="none"/>
<circle cx="273.40" cy="224.10" r="1.05" fill="#1a1a1a"/>
<text class="yl" filter="url(#noop)" font-weight="normal" style="stroke-width:0.45px" transform="translate(239.2,276.2) rotate(-90) scale(0.8002,1)" font-size="8.2" text-anchor="middle">Fibrin(ogen) (fold change)</text>
<text transform="translate(246.5,344.0) scale(0.96,1)" font-size="8.0" text-anchor="end" font-weight="normal" >HRPII</text>
<path d="M268.40,341.90 H272.40" stroke="#333" stroke-width="1.0" fill="none"/>
<path d="M290.60,341.90 H294.80 M292.7,339.80 V344.00" stroke="#222" stroke-width="1.05" fill="none"/>
<path d="M312.20,341.90 H316.40 M314.3,339.80 V344.00" stroke="#222" stroke-width="1.05" fill="none"/>
<text transform="translate(246.5,354.0) scale(0.96,1)" font-size="8.0" text-anchor="end" font-weight="normal" >Ly6G IgG</text>
<path d="M268.40,351.90 H272.40" stroke="#333" stroke-width="1.0" fill="none"/>
<path d="M290.70,351.90 H294.70" stroke="#333" stroke-width="1.0" fill="none"/>
<path d="M312.20,351.90 H316.40 M314.3,349.80 V354.00" stroke="#222" stroke-width="1.05" fill="none"/>
<text transform="translate(246.5,364.0) scale(0.96,1)" font-size="8.0" text-anchor="end" font-weight="normal" >Cont IgG</text>
<path d="M268.40,361.90 H272.40" stroke="#333" stroke-width="1.0" fill="none"/>
<path d="M290.60,361.90 H294.80 M292.7,359.80 V364.00" stroke="#222" stroke-width="1.05" fill="none"/>
<path d="M312.30,361.90 H316.30" stroke="#333" stroke-width="1.0" fill="none"/>
<text x="207.5" y="215.39999999999998" font-size="11" text-anchor="start" font-weight="bold" style="stroke-width:0.35px">E</text>
<rect x="445.45" y="283.0" width="16.5" height="48.30" fill="#e0899a"/>
<rect x="468.40" y="258.2" width="14.6" height="73.10" fill="#8aa9c6"/>
<rect x="490.60" y="263.4" width="14.6" height="67.90" fill="#9fdaa4"/>
<path d="M450.00,286.3 H456.40 M453.2,286.3 V294.7 M450.00,294.7 H456.40" stroke="#1a1a1a" stroke-width="1" fill="none"/>
<path d="M472.80,252.9 H479.20 M476,252.9 V262.3 M472.80,262.3 H479.20" stroke="#1a1a1a" stroke-width="1" fill="none"/>
<path d="M494.70,258.2 H501.10 M497.9,258.2 V268 M494.70,268 H501.10" stroke="#1a1a1a" stroke-width="1" fill="none"/>
<circle cx="453.8" cy="274.8" r="2.05" fill="#cf0a2c"/>
<circle cx="449.4" cy="280.1" r="2.05" fill="#cf0a2c"/>
<circle cx="457.8" cy="283" r="2.05" fill="#cf0a2c"/>
<circle cx="454.3" cy="286.3" r="2.05" fill="#cf0a2c"/>
<circle cx="450.5" cy="290.6" r="2.05" fill="#cf0a2c"/>
<circle cx="457" cy="295" r="2.05" fill="#cf0a2c"/>
<circle cx="450.5" cy="307.2" r="2.05" fill="#cf0a2c"/>
<circle cx="457" cy="304.4" r="2.05" fill="#cf0a2c"/>
<rect x="473.95" y="230.75" width="4.1" height="4.1" fill="#0e4b87"/>
<rect x="473.95" y="244.35" width="4.1" height="4.1" fill="#0e4b87"/>
<rect x="473.95" y="251.75" width="4.1" height="4.1" fill="#0e4b87"/>
<rect x="467.15" y="258.65" width="4.1" height="4.1" fill="#0e4b87"/>
<rect x="471.15" y="260.55" width="4.1" height="4.1" fill="#0e4b87"/>
<rect x="476.85" y="256.95" width="4.1" height="4.1" fill="#0e4b87"/>
<rect x="476.85" y="266.35" width="4.1" height="4.1" fill="#0e4b87"/>
<rect x="473.95" y="273.95" width="4.1" height="4.1" fill="#0e4b87"/>
<path d="M489.25,247.60 L493.75,247.60 L491.50,251.40 Z" fill="#2cb53f"/>
<path d="M492.55,249.60 L497.05,249.60 L494.80,253.40 Z" fill="#2cb53f"/>
<path d="M499.05,244.00 L503.55,244.00 L501.30,247.80 Z" fill="#2cb53f"/>
<path d="M498.55,254.90 L503.05,254.90 L500.80,258.70 Z" fill="#2cb53f"/>
<path d="M502.05,253.80 L506.55,253.80 L504.30,257.60 Z" fill="#2cb53f"/>
<path d="M492.55,261.40 L497.05,261.40 L494.80,265.20 Z" fill="#2cb53f"/>
<path d="M492.55,275.50 L497.05,275.50 L494.80,279.30 Z" fill="#2cb53f"/>
<path d="M499.05,276.80 L503.55,276.80 L501.30,280.60 Z" fill="#2cb53f"/>
<path d="M495.65,284.10 L500.15,284.10 L497.90,287.90 Z" fill="#2cb53f"/>
<path d="M439.2,222.5 V331.8 M436.2,331.3 H513" stroke="#111" stroke-width="1.3" fill="none"/>
<path d="M436.2,331.3 H439.2" stroke="#111" stroke-width="1" fill="none"/>
<text x="433.2" y="334.15000000000003" font-size="8.0" text-anchor="end" font-weight="normal" >0.0</text>
<path d="M436.2,278.8 H439.2" stroke="#111" stroke-width="1" fill="none"/>
<text x="433.2" y="281.65000000000003" font-size="8.0" text-anchor="end" font-weight="normal" >0.5</text>
<path d="M436.2,226.3 H439.2" stroke="#111" stroke-width="1" fill="none"/>
<text x="433.2" y="229.15" font-size="8.0" text-anchor="end" font-weight="normal" >1.0</text>
<path d="M453.7,331.3 V333.90000000000003" stroke="#111" stroke-width="0.9" fill="none"/>
<path d="M475.7,331.3 V333.90000000000003" stroke="#111" stroke-width="0.9" fill="none"/>
<path d="M497.9,331.3 V333.90000000000003" stroke="#111" stroke-width="0.9" fill="none"/>
<path d="M445.6,224.4 H471.3" stroke="#222" stroke-width="1" fill="none"/>
<circle cx="457.25" cy="220.20" r="1.05" fill="#1a1a1a"/>
<circle cx="460.15" cy="220.20" r="1.05" fill="#1a1a1a"/>
<text class="yl" filter="url(#noop)" font-weight="normal" style="stroke-width:0.45px" transform="translate(416.65,278.2) rotate(-90) scale(0.7875,1)" font-size="8.2" text-anchor="middle">TAT-Complex (ng/ml)</text>
<text transform="translate(432.3,342.0) scale(0.96,1)" font-size="8.0" text-anchor="end" font-weight="normal" >HRPII</text>
<path d="M451.70,339.90 H455.70" stroke="#333" stroke-width="1.0" fill="none"/>
<path d="M473.60,339.90 H477.80 M475.7,337.80 V342.00" stroke="#222" stroke-width="1.05" fill="none"/>
<path d="M495.80,339.90 H500.00 M497.9,337.80 V342.00" stroke="#222" stroke-width="1.05" fill="none"/>
<text transform="translate(432.3,352.0) scale(0.96,1)" font-size="8.0" text-anchor="end" font-weight="normal" >Ly6G IgG</text>
<path d="M451.70,349.90 H455.70" stroke="#333" stroke-width="1.0" fill="none"/>
<path d="M473.70,349.90 H477.70" stroke="#333" stroke-width="1.0" fill="none"/>
<path d="M495.80,349.90 H500.00 M497.9,347.80 V352.00" stroke="#222" stroke-width="1.05" fill="none"/>
<text transform="translate(432.3,361.7) scale(0.96,1)" font-size="8.0" text-anchor="end" font-weight="normal" >Cont IgG</text>
<path d="M451.70,359.60 H455.70" stroke="#333" stroke-width="1.0" fill="none"/>
<path d="M473.60,359.60 H477.80 M475.7,357.50 V361.70" stroke="#222" stroke-width="1.05" fill="none"/>
<path d="M495.90,359.60 H499.90" stroke="#333" stroke-width="1.0" fill="none"/>
<text x="397.1" y="215.39999999999998" font-size="11" text-anchor="start" font-weight="bold" style="stroke-width:0.35px">F</text>
<rect x="81.35" y="492.6" width="14.6" height="25.90" fill="#e0899a"/>
<rect x="103.60" y="455.0" width="14.6" height="63.50" fill="#8aa9c6"/>
<rect x="124.40" y="493.2" width="16.6" height="25.30" fill="#9fdaa4"/>
<path d="M85.40,488.0 H91.80 M88.6,488.0 V496.9 M85.40,496.9 H91.80" stroke="#1a1a1a" stroke-width="1" fill="none"/>
<path d="M107.70,449.9 H114.10 M110.9,449.9 V460.2 M107.70,460.2 H114.10" stroke="#1a1a1a" stroke-width="1" fill="none"/>
<path d="M129.50,492.6 H135.90 M132.7,492.6 V499.5 M129.50,499.5 H135.90" stroke="#1a1a1a" stroke-width="1" fill="none"/>
<circle cx="85.7" cy="476.8" r="2.05" fill="#cf0a2c"/>
<circle cx="95.1" cy="482.4" r="2.05" fill="#cf0a2c"/>
<circle cx="92" cy="485" r="2.05" fill="#cf0a2c"/>
<circle cx="85.7" cy="489.2" r="2.05" fill="#cf0a2c"/>
<circle cx="88.6" cy="496.9" r="2.05" fill="#cf0a2c"/>
<circle cx="92" cy="505.5" r="2.05" fill="#cf0a2c"/>
<circle cx="85.7" cy="509.2" r="2.05" fill="#cf0a2c"/>
<rect x="108.75" y="426.15" width="4.1" height="4.1" fill="#0e4b87"/>
<rect x="104.15" y="440.15" width="4.1" height="4.1" fill="#0e4b87"/>
<rect x="107.45" y="441.95" width="4.1" height="4.1" fill="#0e4b87"/>
<rect x="114.95" y="440.55" width="4.1" height="4.1" fill="#0e4b87"/>
<rect x="104.65" y="444.45" width="4.1" height="4.1" fill="#0e4b87"/>
<rect x="111.85" y="443.55" width="4.1" height="4.1" fill="#0e4b87"/>
<rect x="108.95" y="445.45" width="4.1" height="4.1" fill="#0e4b87"/>
<rect x="109.25" y="449.55" width="4.1" height="4.1" fill="#0e4b87"/>
<rect x="108.75" y="462.05" width="4.1" height="4.1" fill="#0e4b87"/>
<rect x="108.75" y="471.25" width="4.1" height="4.1" fill="#0e4b87"/>
<rect x="111.85" y="477.45" width="4.1" height="4.1" fill="#0e4b87"/>
<rect x="105.35" y="481.55" width="4.1" height="4.1" fill="#0e4b87"/>
<path d="M127.35,478.10 L131.85,478.10 L129.60,481.90 Z" fill="#2cb53f"/>
<path d="M130.45,487.50 L134.95,487.50 L132.70,491.30 Z" fill="#2cb53f"/>
<path d="M127.85,496.90 L132.35,496.90 L130.10,500.70 Z" fill="#2cb53f"/>
<path d="M133.05,497.80 L137.55,497.80 L135.30,501.60 Z" fill="#2cb53f"/>
<path d="M130.45,500.30 L134.95,500.30 L132.70,504.10 Z" fill="#2cb53f"/>
<path d="M130.45,510.60 L134.95,510.60 L132.70,514.40 Z" fill="#2cb53f"/>
<path d="M74.0,409.8 V519.0 M71.0,518.5 H147.9" stroke="#111" stroke-width="1.3" fill="none"/>
<path d="M71.0,518.5 H74.0" stroke="#111" stroke-width="1" fill="none"/>
<text x="68.0" y="521.35" font-size="8.0" text-anchor="end" font-weight="normal" >0</text>
<path d="M71.0,483.44 H74.0" stroke="#111" stroke-width="1" fill="none"/>
<text x="68.0" y="486.29" font-size="8.0" text-anchor="end" font-weight="normal" >200</text>
<path d="M71.0,448.38 H74.0" stroke="#111" stroke-width="1" fill="none"/>
<text x="68.0" y="451.23" font-size="8.0" text-anchor="end" font-weight="normal" >400</text>
<path d="M71.0,413.32 H74.0" stroke="#111" stroke-width="1" fill="none"/>
<text x="68.0" y="416.17" font-size="8.0" text-anchor="end" font-weight="normal" >600</text>
<path d="M88.65,518.5 V521.1" stroke="#111" stroke-width="0.9" fill="none"/>
<path d="M110.9,518.5 V521.1" stroke="#111" stroke-width="0.9" fill="none"/>
<path d="M132.7,518.5 V521.1" stroke="#111" stroke-width="0.9" fill="none"/>
<path d="M80.3,412.8 H106.7" stroke="#222" stroke-width="1" fill="none"/>
<circle cx="90.50" cy="408.60" r="1.05" fill="#1a1a1a"/>
<circle cx="93.40" cy="408.60" r="1.05" fill="#1a1a1a"/>
<circle cx="96.30" cy="408.60" r="1.05" fill="#1a1a1a"/>
<path d="M110.9,412.8 H136.7" stroke="#222" stroke-width="1" fill="none"/>
<circle cx="118.30" cy="408.60" r="1.05" fill="#1a1a1a"/>
<circle cx="121.20" cy="408.60" r="1.05" fill="#1a1a1a"/>
<circle cx="124.10" cy="408.60" r="1.05" fill="#1a1a1a"/>
<text class="yl" filter="url(#noop)" font-weight="normal" style="stroke-width:0.45px" transform="translate(48.2,464.0) rotate(-90) scale(0.7868,1)" font-size="8.2" text-anchor="middle">VWF (ng/ml)</text>
<text transform="translate(67.2,529.4) scale(0.96,1)" font-size="8.0" text-anchor="end" font-weight="normal" >HRPII</text>
<path d="M86.65,527.30 H90.65" stroke="#333" stroke-width="1.0" fill="none"/>
<path d="M108.80,527.30 H113.00 M110.9,525.20 V529.40" stroke="#222" stroke-width="1.05" fill="none"/>
<path d="M130.60,527.30 H134.80 M132.7,525.20 V529.40" stroke="#222" stroke-width="1.05" fill="none"/>
<text transform="translate(67.2,539.2) scale(0.96,1)" font-size="8.0" text-anchor="end" font-weight="normal" >Ly6G IgG</text>
<path d="M86.65,537.10 H90.65" stroke="#333" stroke-width="1.0" fill="none"/>
<path d="M108.90,537.10 H112.90" stroke="#333" stroke-width="1.0" fill="none"/>
<path d="M130.60,537.10 H134.80 M132.7,535.00 V539.20" stroke="#222" stroke-width="1.05" fill="none"/>
<text transform="translate(67.2,549.0) scale(0.96,1)" font-size="8.0" text-anchor="end" font-weight="normal" >Cont IgG</text>
<path d="M86.65,546.90 H90.65" stroke="#333" stroke-width="1.0" fill="none"/>
<path d="M108.80,546.90 H113.00 M110.9,544.80 V549.00" stroke="#222" stroke-width="1.05" fill="none"/>
<path d="M130.70,546.90 H134.70" stroke="#333" stroke-width="1.0" fill="none"/>
<text x="7.1" y="400.4" font-size="11" text-anchor="start" font-weight="bold" style="stroke-width:0.35px">G</text>
<rect x="258.10" y="449.3" width="14.6" height="69.10" fill="#e0899a"/>
<rect x="280.10" y="477.4" width="14.6" height="41.00" fill="#8aa9c6"/>
<rect x="302.00" y="461.2" width="14.6" height="57.20" fill="#9fdaa4"/>
<path d="M262.20,448.1 H268.60 M265.4,448.1 V451.2 M262.20,451.2 H268.60" stroke="#1a1a1a" stroke-width="1" fill="none"/>
<path d="M284.20,470.4 H290.60 M287.4,470.4 V485.1 M284.20,485.1 H290.60" stroke="#1a1a1a" stroke-width="1" fill="none"/>
<path d="M306.10,457.7 H312.50 M309.3,457.7 V464.7 M306.10,464.7 H312.50" stroke="#1a1a1a" stroke-width="1" fill="none"/>
<circle cx="261.9" cy="430.6" r="2.05" fill="#cf0a2c"/>
<circle cx="271.5" cy="436.9" r="2.05" fill="#cf0a2c"/>
<circle cx="261.25" cy="442.25" r="2.05" fill="#cf0a2c"/>
<circle cx="260" cy="443.75" r="2.05" fill="#cf0a2c"/>
<circle cx="268.5" cy="441.25" r="2.05" fill="#cf0a2c"/>
<circle cx="269.75" cy="442.75" r="2.05" fill="#cf0a2c"/>
<circle cx="263.75" cy="446.9" r="2.05" fill="#cf0a2c"/>
<circle cx="266.9" cy="446.9" r="2.05" fill="#cf0a2c"/>
<circle cx="268.5" cy="447.25" r="2.05" fill="#cf0a2c"/>
<circle cx="262.5" cy="449.75" r="2.05" fill="#cf0a2c"/>
<circle cx="264" cy="452.75" r="2.05" fill="#cf0a2c"/>
<circle cx="267.5" cy="453.1" r="2.05" fill="#cf0a2c"/>
<circle cx="262.5" cy="453.75" r="2.05" fill="#cf0a2c"/>
<circle cx="261.9" cy="462.5" r="2.05" fill="#cf0a2c"/>
<circle cx="265" cy="462.25" r="2.05" fill="#cf0a2c"/>
<circle cx="267.5" cy="461.5" r="2.05" fill="#cf0a2c"/>
<rect x="285.15" y="440.45" width="4.1" height="4.1" fill="#0e4b87"/>
<rect x="281.85" y="448.45" width="4.1" height="4.1" fill="#0e4b87"/>
<rect x="288.15" y="450.25" width="4.1" height="4.1" fill="#0e4b87"/>
<rect x="285.15" y="462.65" width="4.1" height="4.1" fill="#0e4b87"/>
<rect x="281.85" y="470.15" width="4.1" height="4.1" fill="#0e4b87"/>
<rect x="288.15" y="476.05" width="4.1" height="4.1" fill="#0e4b87"/>
<rect x="281.85" y="487.75" width="4.1" height="4.1" fill="#0e4b87"/>
<rect x="288.15" y="486.05" width="4.1" height="4.1" fill="#0e4b87"/>
<rect x="285.15" y="497.05" width="4.1" height="4.1" fill="#0e4b87"/>
<rect x="281.85" y="505.25" width="4.1" height="4.1" fill="#0e4b87"/>
<rect x="288.15" y="505.25" width="4.1" height="4.1" fill="#0e4b87"/>
<path d="M302.75,436.40 L307.25,436.40 L305.00,440.20 Z" fill="#2cb53f"/>
<path d="M311.25,436.40 L315.75,436.40 L313.50,440.20 Z" fill="#2cb53f"/>
<path d="M306.75,442.05 L311.25,442.05 L309.00,445.85 Z" fill="#2cb53f"/>
<path d="M310.25,444.55 L314.75,444.55 L312.50,448.35 Z" fill="#2cb53f"/>
<path d="M303.75,449.80 L308.25,449.80 L306.00,453.60 Z" fill="#2cb53f"/>
<path d="M303.75,457.05 L308.25,457.05 L306.00,460.85 Z" fill="#2cb53f"/>
<path d="M310.25,457.70 L314.75,457.70 L312.50,461.50 Z" fill="#2cb53f"/>
<path d="M302.75,462.05 L307.25,462.05 L305.00,465.85 Z" fill="#2cb53f"/>
<path d="M306.50,463.30 L311.00,463.30 L308.75,467.10 Z" fill="#2cb53f"/>
<path d="M310.25,462.05 L314.75,462.05 L312.50,465.85 Z" fill="#2cb53f"/>
<path d="M304.00,465.80 L308.50,465.80 L306.25,469.60 Z" fill="#2cb53f"/>
<path d="M307.75,466.40 L312.25,466.40 L310.00,470.20 Z" fill="#2cb53f"/>
<path d="M305.25,469.55 L309.75,469.55 L307.50,473.35 Z" fill="#2cb53f"/>
<path d="M250.7,409.8 V518.9 M247.7,518.4 H324.8" stroke="#111" stroke-width="1.3" fill="none"/>
<path d="M247.7,518.4 H250.7" stroke="#111" stroke-width="1" fill="none"/>
<text x="244.7" y="521.25" font-size="8.0" text-anchor="end" font-weight="normal" >0</text>
<path d="M247.7,483.37 H250.7" stroke="#111" stroke-width="1" fill="none"/>
<text x="244.7" y="486.22" font-size="8.0" text-anchor="end" font-weight="normal" >400</text>
<path d="M247.7,448.34 H250.7" stroke="#111" stroke-width="1" fill="none"/>
<text x="244.7" y="451.19" font-size="8.0" text-anchor="end" font-weight="normal" >800</text>
<path d="M247.7,413.31 H250.7" stroke="#111" stroke-width="1" fill="none"/>
<text x="244.7" y="416.16" font-size="8.0" text-anchor="end" font-weight="normal" >1200</text>
<path d="M265.4,518.4 V521.0" stroke="#111" stroke-width="0.9" fill="none"/>
<path d="M287.4,518.4 V521.0" stroke="#111" stroke-width="0.9" fill="none"/>
<path d="M309.3,518.4 V521.0" stroke="#111" stroke-width="0.9" fill="none"/>
<path d="M258.6,415.4 H284.4" stroke="#222" stroke-width="1" fill="none"/>
<circle cx="266.50" cy="411.20" r="1.05" fill="#1a1a1a"/>
<circle cx="269.40" cy="411.20" r="1.05" fill="#1a1a1a"/>
<circle cx="272.30" cy="411.20" r="1.05" fill="#1a1a1a"/>
<path d="M289.5,415.4 H315.5" stroke="#222" stroke-width="1" fill="none"/>
<circle cx="302.40" cy="411.20" r="1.05" fill="#1a1a1a"/>
<text class="yl" filter="url(#noop)" font-weight="normal" style="stroke-width:0.45px" transform="translate(220.3,464.6) rotate(-90) scale(0.8130,1)" font-size="8.2" text-anchor="middle">Platelet count (10<tspan font-size="5.2" dy="-2.6">6</tspan><tspan dy="2.6">/ml)</tspan></text>
<text transform="translate(244.4,529.0) scale(0.96,1)" font-size="8.0" text-anchor="end" font-weight="normal" >HRPII</text>
<path d="M263.40,526.90 H267.40" stroke="#333" stroke-width="1.0" fill="none"/>
<path d="M285.30,526.90 H289.50 M287.4,524.80 V529.00" stroke="#222" stroke-width="1.05" fill="none"/>
<path d="M307.20,526.90 H311.40 M309.3,524.80 V529.00" stroke="#222" stroke-width="1.05" fill="none"/>
<text transform="translate(244.4,539.0) scale(0.96,1)" font-size="8.0" text-anchor="end" font-weight="normal" >Ly6G IgG</text>
<path d="M263.40,536.90 H267.40" stroke="#333" stroke-width="1.0" fill="none"/>
<path d="M285.40,536.90 H289.40" stroke="#333" stroke-width="1.0" fill="none"/>
<path d="M307.20,536.90 H311.40 M309.3,534.80 V539.00" stroke="#222" stroke-width="1.05" fill="none"/>
<text transform="translate(244.4,548.7) scale(0.96,1)" font-size="8.0" text-anchor="end" font-weight="normal" >Cont IgG</text>
<path d="M263.40,546.60 H267.40" stroke="#333" stroke-width="1.0" fill="none"/>
<path d="M285.30,546.60 H289.50 M287.4,544.50 V548.70" stroke="#222" stroke-width="1.05" fill="none"/>
<path d="M307.30,546.60 H311.30" stroke="#333" stroke-width="1.0" fill="none"/>
<text x="207.5" y="400.4" font-size="11" text-anchor="start" font-weight="bold" style="stroke-width:0.35px">H</text>
<rect x="445.80" y="491.4" width="15.0" height="27.00" fill="#e0899a"/>
<rect x="468.50" y="452.3" width="14.6" height="66.10" fill="#8aa9c6"/>
<rect x="490.30" y="471.1" width="15.0" height="47.30" fill="#9fdaa4"/>
<path d="M450.10,487.4 H456.50 M453.3,487.4 V495.2 M450.10,495.2 H456.50" stroke="#1a1a1a" stroke-width="1" fill="none"/>
<path d="M472.60,446.0 H479.00 M475.8,446.0 V457.0 M472.60,457.0 H479.00" stroke="#1a1a1a" stroke-width="1" fill="none"/>
<path d="M494.60,466.4 H501.00 M497.8,466.4 V475.7 M494.60,475.7 H501.00" stroke="#1a1a1a" stroke-width="1" fill="none"/>
<circle cx="457" cy="465.8" r="2.05" fill="#cf0a2c"/>
<circle cx="450.2" cy="470.4" r="2.05" fill="#cf0a2c"/>
<circle cx="453.6" cy="479.8" r="2.05" fill="#cf0a2c"/>
<circle cx="450.2" cy="489.2" r="2.05" fill="#cf0a2c"/>
<circle cx="456.7" cy="489.2" r="2.05" fill="#cf0a2c"/>
<circle cx="449" cy="497.8" r="2.05" fill="#cf0a2c"/>
<circle cx="451.5" cy="499" r="2.05" fill="#cf0a2c"/>
<circle cx="455.8" cy="499" r="2.05" fill="#cf0a2c"/>
<circle cx="458.4" cy="497.8" r="2.05" fill="#cf0a2c"/>
<circle cx="452.4" cy="502.3" r="2.05" fill="#cf0a2c"/>
<circle cx="454.5" cy="503.8" r="2.05" fill="#cf0a2c"/>
<circle cx="453.6" cy="509.7" r="2.05" fill="#cf0a2c"/>
<rect x="470.35" y="426.85" width="4.1" height="4.1" fill="#0e4b87"/>
<rect x="476.85" y="425.65" width="4.1" height="4.1" fill="#0e4b87"/>
<rect x="475.15" y="429.05" width="4.1" height="4.1" fill="#0e4b87"/>
<rect x="471.75" y="431.65" width="4.1" height="4.1" fill="#0e4b87"/>
<rect x="468.35" y="449.55" width="4.1" height="4.1" fill="#0e4b87"/>
<rect x="472.45" y="448.95" width="4.1" height="4.1" fill="#0e4b87"/>
<rect x="477.75" y="448.75" width="4.1" height="4.1" fill="#0e4b87"/>
<rect x="474.45" y="452.95" width="4.1" height="4.1" fill="#0e4b87"/>
<rect x="470.05" y="466.65" width="4.1" height="4.1" fill="#0e4b87"/>
<rect x="473.75" y="464.95" width="4.1" height="4.1" fill="#0e4b87"/>
<rect x="476.85" y="472.35" width="4.1" height="4.1" fill="#0e4b87"/>
<rect x="473.75" y="480.35" width="4.1" height="4.1" fill="#0e4b87"/>
<path d="M495.45,433.30 L499.95,433.30 L497.70,437.10 Z" fill="#2cb53f"/>
<path d="M495.45,444.30 L499.95,444.30 L497.70,448.10 Z" fill="#2cb53f"/>
<path d="M492.05,448.20 L496.55,448.20 L494.30,452.00 Z" fill="#2cb53f"/>
<path d="M498.55,452.80 L503.05,452.80 L500.80,456.60 Z" fill="#2cb53f"/>
<path d="M495.45,459.70 L499.95,459.70 L497.70,463.50 Z" fill="#2cb53f"/>
<path d="M489.15,466.20 L493.65,466.20 L491.40,470.00 Z" fill="#2cb53f"/>
<path d="M501.95,466.20 L506.45,466.20 L504.20,470.00 Z" fill="#2cb53f"/>
<path d="M492.05,471.30 L496.55,471.30 L494.30,475.10 Z" fill="#2cb53f"/>
<path d="M498.85,471.30 L503.35,471.30 L501.10,475.10 Z" fill="#2cb53f"/>
<path d="M493.75,476.40 L498.25,476.40 L496.00,480.20 Z" fill="#2cb53f"/>
<path d="M492.05,482.90 L496.55,482.90 L494.30,486.70 Z" fill="#2cb53f"/>
<path d="M498.85,484.10 L503.35,484.10 L501.10,487.90 Z" fill="#2cb53f"/>
<path d="M491.15,488.70 L495.65,488.70 L493.40,492.50 Z" fill="#2cb53f"/>
<path d="M499.75,490.40 L504.25,490.40 L502.00,494.20 Z" fill="#2cb53f"/>
<path d="M495.45,492.10 L499.95,492.10 L497.70,495.90 Z" fill="#2cb53f"/>
<path d="M439.1,409.8 V518.9 M436.1,518.4 H512.9" stroke="#111" stroke-width="1.3" fill="none"/>
<path d="M436.1,518.4 H439.1" stroke="#111" stroke-width="1" fill="none"/>
<text x="433.1" y="521.25" font-size="8.0" text-anchor="end" font-weight="normal" >0</text>
<path d="M436.1,483.37 H439.1" stroke="#111" stroke-width="1" fill="none"/>
<text x="433.1" y="486.22" font-size="8.0" text-anchor="end" font-weight="normal" >50</text>
<path d="M436.1,448.34 H439.1" stroke="#111" stroke-width="1" fill="none"/>
<text x="433.1" y="451.19" font-size="8.0" text-anchor="end" font-weight="normal" >100</text>
<path d="M436.1,413.31 H439.1" stroke="#111" stroke-width="1" fill="none"/>
<text x="433.1" y="416.16" font-size="8.0" text-anchor="end" font-weight="normal" >150</text>
<path d="M453.3,518.4 V521.0" stroke="#111" stroke-width="0.9" fill="none"/>
<path d="M475.8,518.4 V521.0" stroke="#111" stroke-width="0.9" fill="none"/>
<path d="M497.8,518.4 V521.0" stroke="#111" stroke-width="0.9" fill="none"/>
<path d="M445.6,413.3 H472" stroke="#222" stroke-width="1" fill="none"/>
<circle cx="455.50" cy="409.10" r="1.05" fill="#1a1a1a"/>
<circle cx="458.40" cy="409.10" r="1.05" fill="#1a1a1a"/>
<circle cx="461.30" cy="409.10" r="1.05" fill="#1a1a1a"/>
<path d="M477.2,413.3 H502.9" stroke="#222" stroke-width="1" fill="none"/>
<circle cx="489.60" cy="409.10" r="1.05" fill="#1a1a1a"/>
<text class="yl" filter="url(#noop)" font-weight="normal" style="stroke-width:0.45px" transform="translate(413.1,463.3) rotate(-90) scale(0.7845,1)" font-size="8.2" text-anchor="middle">Evans blue (μg/gm tissue)</text>
<text transform="translate(432.8,529.4) scale(0.96,1)" font-size="8.0" text-anchor="end" font-weight="normal" >HRPII</text>
<path d="M451.30,527.30 H455.30" stroke="#333" stroke-width="1.0" fill="none"/>
<path d="M473.70,527.30 H477.90 M475.8,525.20 V529.40" stroke="#222" stroke-width="1.05" fill="none"/>
<path d="M495.70,527.30 H499.90 M497.8,525.20 V529.40" stroke="#222" stroke-width="1.05" fill="none"/>
<text transform="translate(432.8,539.2) scale(0.96,1)" font-size="8.0" text-anchor="end" font-weight="normal" >Ly6G IgG</text>
<path d="M451.30,537.10 H455.30" stroke="#333" stroke-width="1.0" fill="none"/>
<path d="M473.80,537.10 H477.80" stroke="#333" stroke-width="1.0" fill="none"/>
<path d="M495.70,537.10 H499.90 M497.8,535.00 V539.20" stroke="#222" stroke-width="1.05" fill="none"/>
<text transform="translate(432.8,549.1) scale(0.96,1)" font-size="8.0" text-anchor="end" font-weight="normal" >Cont IgG</text>
<path d="M451.30,547.00 H455.30" stroke="#333" stroke-width="1.0" fill="none"/>
<path d="M473.70,547.00 H477.90 M475.8,544.90 V549.10" stroke="#222" stroke-width="1.05" fill="none"/>
<path d="M495.80,547.00 H499.80" stroke="#333" stroke-width="1.0" fill="none"/>
<text x="398.1" y="400.4" font-size="11" text-anchor="start" font-weight="bold" style="stroke-width:0.35px">I</text>
<rect x="0.5" y="0.5" width="519" height="555" fill="none" stroke="#000" stroke-width="1"/>
</svg>
</body></html>
